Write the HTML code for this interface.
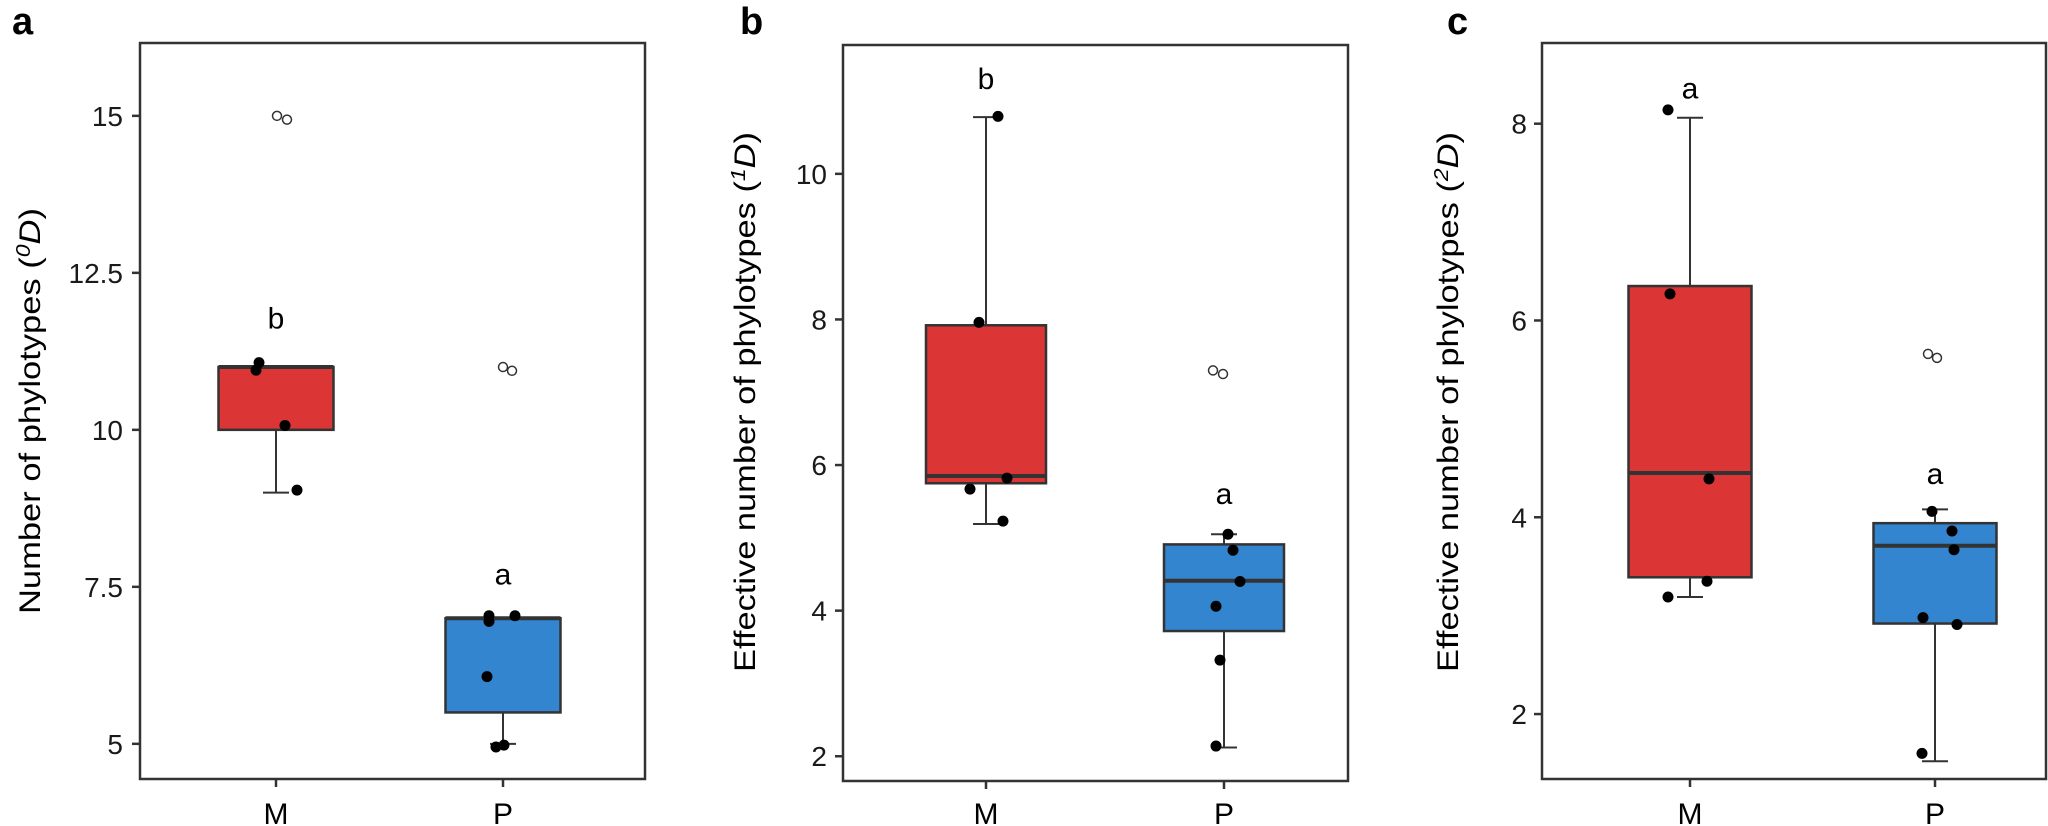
<!DOCTYPE html>
<html><head><meta charset="utf-8"><style>
html,body{margin:0;padding:0;background:#fff;}
svg{display:block;font-family:"Liberation Sans",Arial,sans-serif;}
</style></head><body>
<svg id="chart" width="2048" height="826" viewBox="0 0 2048 826" xmlns="http://www.w3.org/2000/svg"></svg>
<script>
// ---- Panel a data ----
const aTicks = [5, 7.5, 10, 12.5, 15];
const aTickLabels = ["5", "7.5", "10", "12.5", "15"];
const aStatsM = [9, 10, 11, 11, 11];      // lowWhisker, Q1, median, Q3, highWhisker
const aStatsP = [5, 5.5, 7, 7, 7];
const aPointsM = [11.07, 10.95, 10.07, 9.04];
const aPointsP = [7.04, 6.95, 7.04, 6.07, 4.95, 4.98];
const aOutM = [15.0, 14.94];
const aOutP = [11.0, 10.94];
const aLetters = ["b", "a"];
const aLetterVals = [11.77, 7.7];

// ---- Panel b data ----
const bTicks = [2, 4, 6, 8, 10];
const bTickLabels = ["2", "4", "6", "8", "10"];
const bStatsM = [5.19, 5.75, 5.85, 7.92, 10.78];
const bStatsP = [2.12, 3.72, 4.41, 4.91, 5.05];
const bPointsM = [10.79, 7.96, 5.67, 5.82, 5.23];
const bPointsP = [5.05, 4.83, 4.40, 4.06, 3.32, 2.14];
const bOutM = [];
const bOutP = [7.3, 7.25];
const bLetters = ["b", "a"];
const bLetterVals = [11.3, 5.6];

// ---- Panel c data ----
const cTicks = [2, 4, 6, 8];
const cTickLabels = ["2", "4", "6", "8"];
const cStatsM = [3.19, 3.39, 4.45, 6.35, 8.06];
const cStatsP = [1.52, 2.92, 3.71, 3.94, 4.08];
const cPointsM = [8.14, 6.27, 4.39, 3.35, 3.19];
const cPointsP = [4.06, 3.86, 3.67, 2.98, 2.91, 1.60];
const cOutM = [];
const cOutP = [5.66, 5.62];
const cLetters = ["a", "a"];
const cLetterVals = [8.36, 4.44];

const categories = ["M", "P"];
const NS = "http://www.w3.org/2000/svg";
const svg = document.getElementById("chart");
function mk(tag, attrs, parent){const e=document.createElementNS(NS,tag);for(const k in attrs)e.setAttribute(k,attrs[k]);(parent||svg).appendChild(e);return e;}

const layout = [
  {id:"a",left:140,right:645,top:43,bottom:779,ymin:4.44,ymax:16.16,cx:[276,503],bw:115,jx:[[259,256,285,297],[489,489,515,487,496,504]],ox:[[277,287],[503,512]],tickRight:123,titleX:30,titleLen:406,titleCy:411,letterX:12,
   ticks:aTicks,tl:aTickLabels,stats:[aStatsM,aStatsP],pts:[aPointsM,aPointsP],outs:[aOutM,aOutP],letters:aLetters,lv:aLetterVals,title:"Number of phylotypes (",sup:"0"},
  {id:"b",left:843,right:1348,top:45,bottom:781,ymin:1.66,ymax:11.77,cx:[986,1224],bw:120,jx:[[998,979,970,1007,1003],[1228,1233,1240,1216,1220,1216]],ox:[[],[1213,1223]],tickRight:827,titleX:745,titleLen:540,titleCy:402,letterX:740,
   ticks:bTicks,tl:bTickLabels,stats:[bStatsM,bStatsP],pts:[bPointsM,bPointsP],outs:[bOutM,bOutP],letters:bLetters,lv:bLetterVals,title:"Effective number of phylotypes (",sup:"1"},
  {id:"c",left:1542,right:2046,top:43,bottom:779,ymin:1.34,ymax:8.82,cx:[1690,1935],bw:123,jx:[[1668,1670,1709,1707,1668],[1932,1952,1954,1923,1957,1922]],ox:[[],[1928,1937]],tickRight:1527,titleX:1448,titleLen:540,titleCy:402,letterX:1447,
   ticks:cTicks,tl:cTickLabels,stats:[cStatsM,cStatsP],pts:[cPointsM,cPointsP],outs:[cOutM,cOutP],letters:cLetters,lv:cLetterVals,title:"Effective number of phylotypes (",sup:"2"}
];
const fills = ["#DC3535","#3385D0"];

layout.forEach(p=>{
  const g = mk("g",{});
  
  
  const y = v => p.bottom - (v - p.ymin)/(p.ymax - p.ymin)*(p.bottom - p.top);

  const lab = mk("text",{x:p.letterX,y:34,"font-size":38,"font-weight":"bold",fill:"#000"},g);
  
  
  lab.textContent = p.id;

  // ticks
  p.ticks.forEach((t,i)=>{
    const yy=y(t);
    const tk=mk("line",{x1:p.left-8,x2:p.left,y1:yy,y2:yy,stroke:"#333","stroke-width":2.5},g);
    
    
    const tx=mk("text",{x:p.tickRight,y:yy+10,"font-size":28,"text-anchor":"end",fill:"#1a1a1a"},g);
    
    
    tx.textContent=p.tl[i];
  });
  // title
  const tt=mk("text",{x:0,y:0,"font-size":30,"text-anchor":"middle",fill:"#000",transform:`translate(${p.titleX+10},${p.titleCy}) rotate(-90)`,textLength:p.titleLen,lengthAdjust:"spacingAndGlyphs"},g);
  
  
  tt.appendChild(document.createTextNode(p.title));
  const ts=mk("tspan",{"font-size":20,dy:-10,"font-style":"italic"},tt); ts.textContent=p.sup;
  const td=mk("tspan",{"font-style":"italic",dy:10},tt); td.textContent="D";
  tt.appendChild(document.createTextNode(")"));

  categories.forEach((c,k)=>{
    const cx=p.cx[k], s=p.stats[k];
    const xt=mk("line",{x1:cx,x2:cx,y1:p.bottom,y2:p.bottom+8,stroke:"#333","stroke-width":2.5},g);
    
    
    const xl=mk("text",{x:cx,y:824,"font-size":30,"text-anchor":"middle",fill:"#000"},g);
    
    
    xl.textContent=c;
    // whiskers
    const w1=mk("line",{x1:cx,x2:cx,y1:y(s[0]),y2:y(s[1]),stroke:"#333","stroke-width":2},g);
    
    
    const w2=mk("line",{x1:cx,x2:cx,y1:y(s[3]),y2:y(s[4]),stroke:"#333","stroke-width":2},g);
    
    
    [s[0],s[4]].forEach(v=>{
      const cap=mk("line",{x1:cx-13,x2:cx+13,y1:y(v),y2:y(v),stroke:"#333","stroke-width":2},g);
      
      
    });
    const bx=mk("rect",{x:cx-p.bw/2,y:y(s[3]),width:p.bw,height:Math.max(1,y(s[1])-y(s[3])),fill:fills[k],stroke:"#333","stroke-width":2.5},g);
    
    
    const md=mk("line",{x1:cx-p.bw/2,x2:cx+p.bw/2,y1:y(s[2]),y2:y(s[2]),stroke:"#333","stroke-width":4},g);
    
    
    p.outs[k].forEach((v,i)=>{
      const o=mk("circle",{cx:p.ox[k][i]!==undefined?p.ox[k][i]:cx,cy:y(v),r:4.5,fill:"none",stroke:"#333","stroke-width":1.5},g);
      
      
    });
    p.pts[k].forEach((v,i)=>{
      const d=mk("ellipse",{cx:p.jx[k][i]!==undefined?p.jx[k][i]:cx,cy:y(v),rx:5.5,ry:5.5,fill:"#000"},g);
      
      
    });
    const lt=mk("text",{x:cx,y:y(p.lv[k])+10,"font-size":30,"text-anchor":"middle",fill:"#000"},g);
    
    
    lt.textContent=p.letters[k];
  });
  const fr=mk("rect",{x:p.left,y:p.top,width:p.right-p.left,height:p.bottom-p.top,fill:"none",stroke:"#333","stroke-width":2.5},g);
  
  
});
</script>
</body></html>
